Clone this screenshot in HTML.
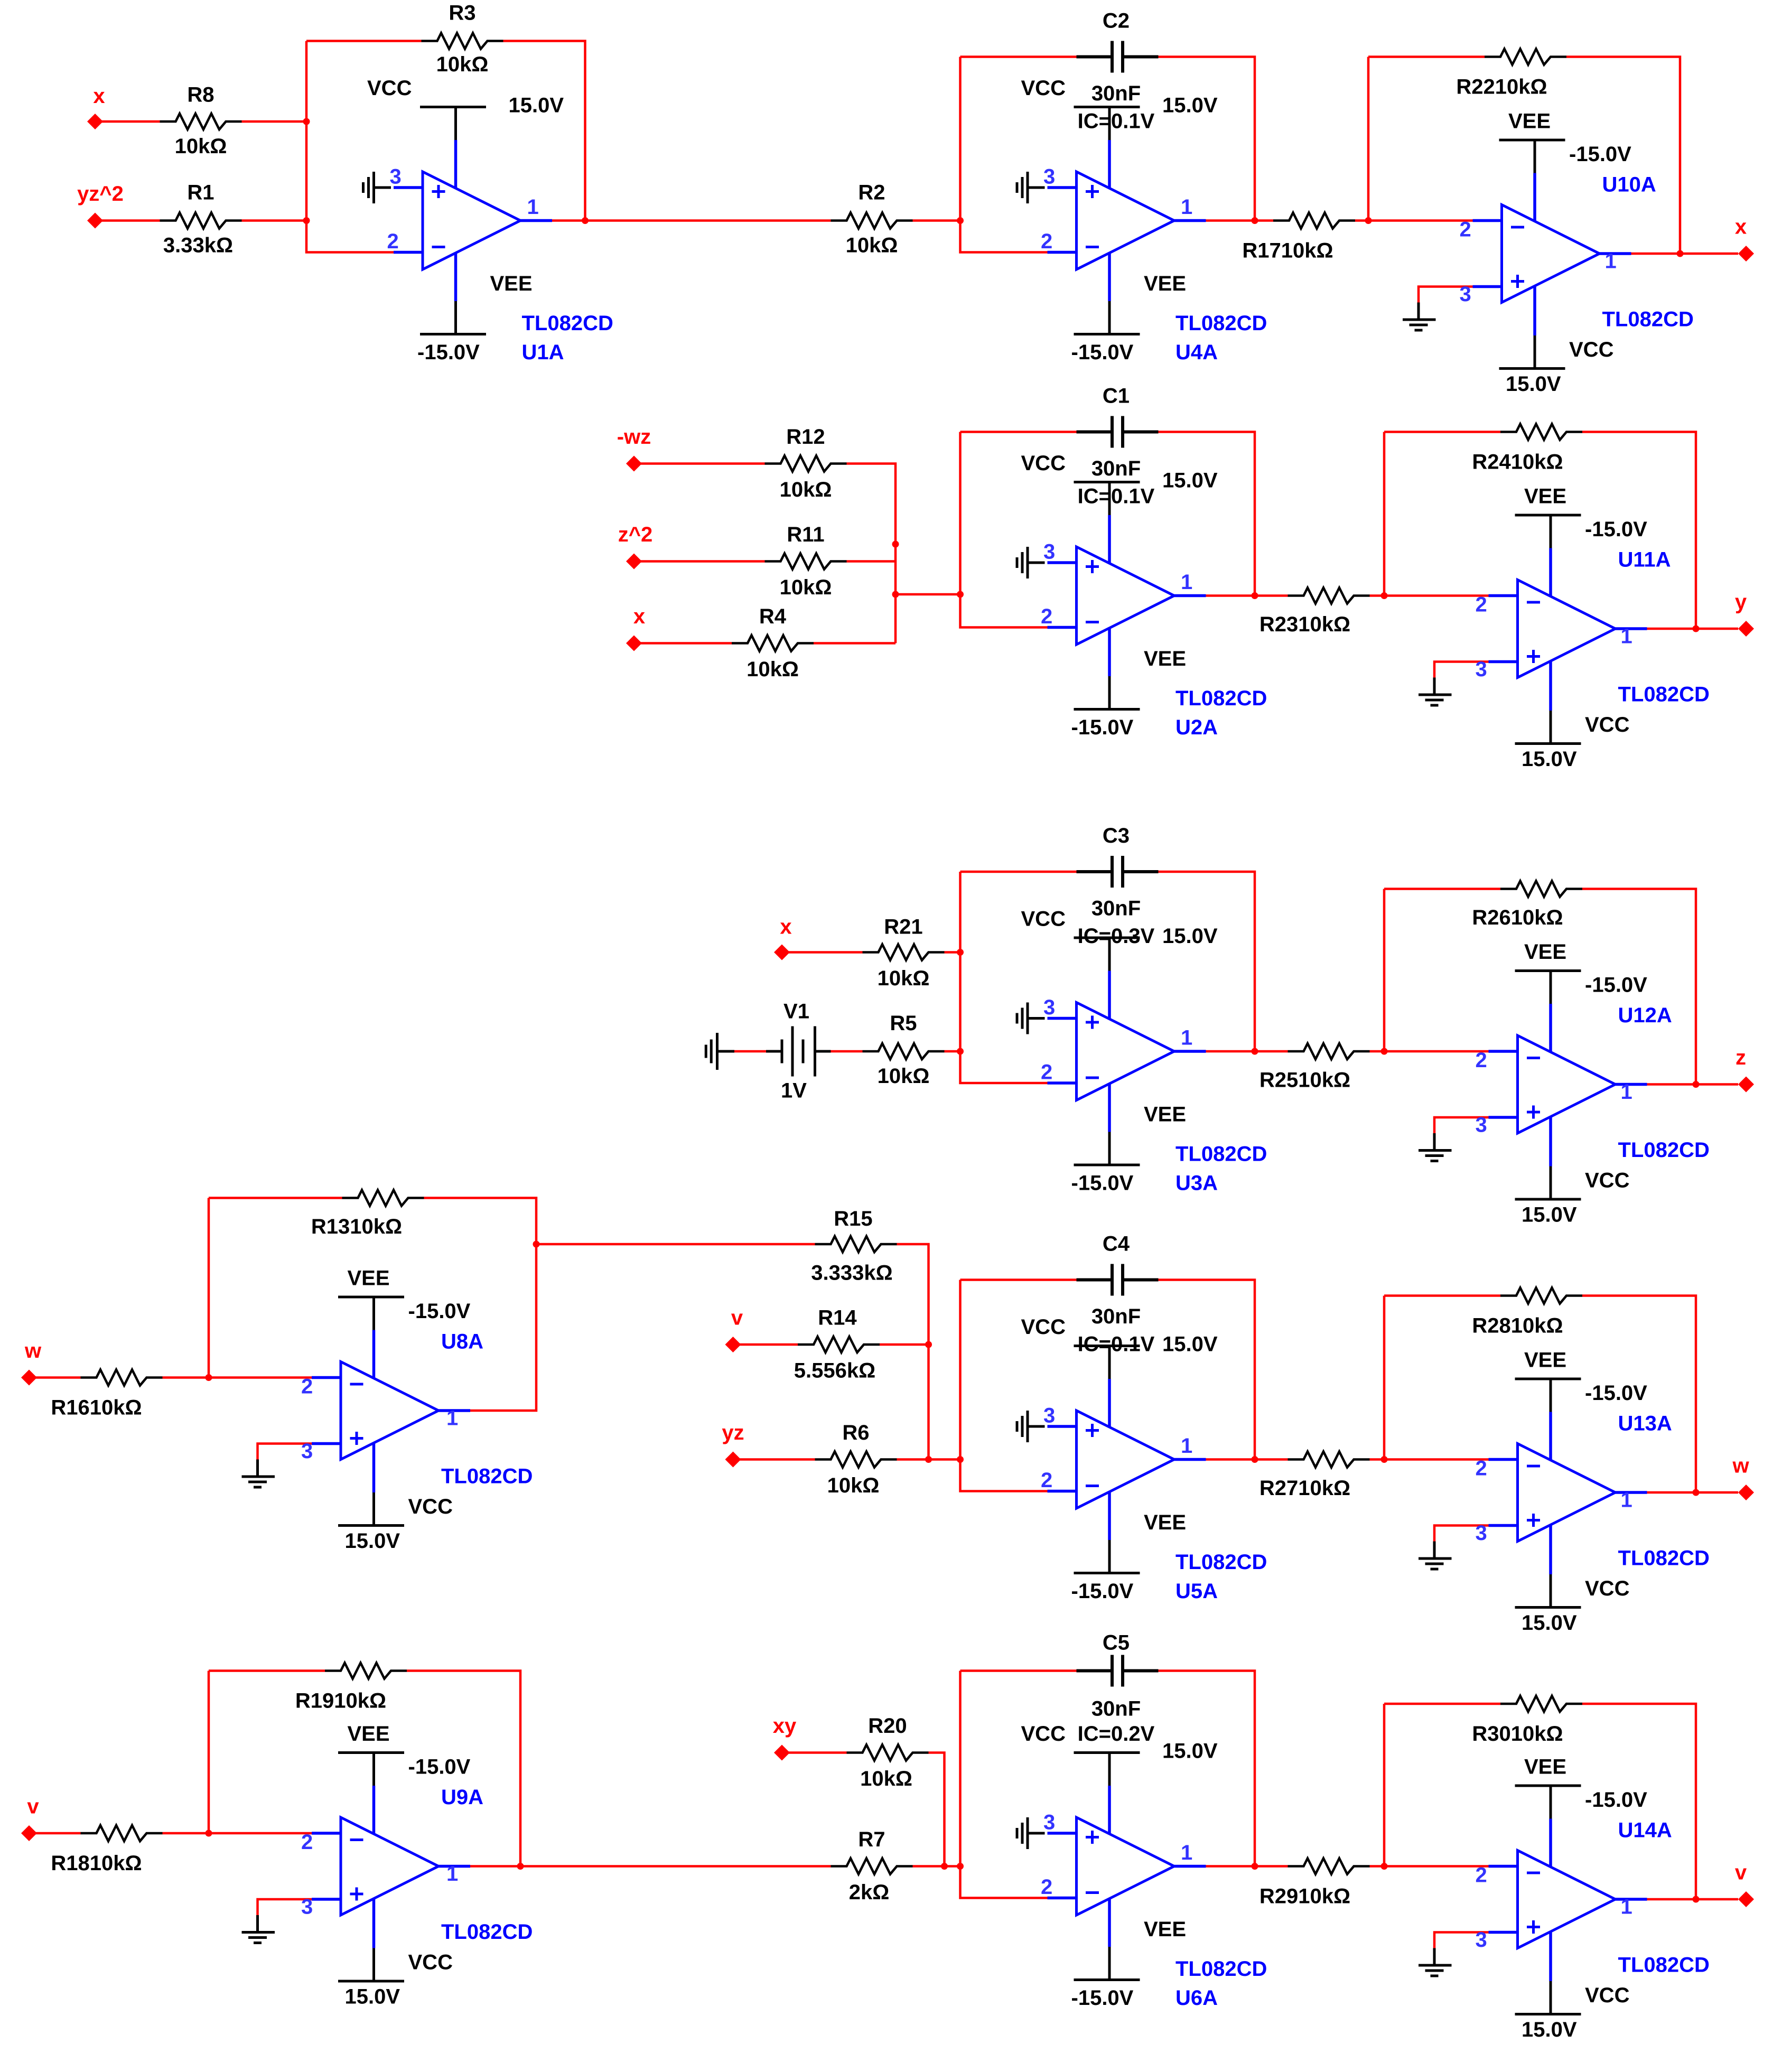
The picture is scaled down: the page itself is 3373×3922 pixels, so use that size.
<!DOCTYPE html>
<html><head><meta charset="utf-8"><style>
html,body{margin:0;padding:0;background:#fff;}
svg{display:block;}
text{font-family:"Liberation Sans",Arial,sans-serif;font-weight:bold;font-size:16px;}
.k{fill:#000;}
.b{fill:#0000ff;}
.r{fill:#ff0000;}
.c{text-anchor:middle;}
.p{font-size:10px;font-weight:normal;fill:#3333ff;}
</style></head><body>
<svg width="3373" height="3922" viewBox="0 0 1349.2 1568.8" xmlns="http://www.w3.org/2000/svg">
<defs>
<g id="res"><path d="M-31,0H-19l3,-6l6,12l6,-12l6,12l6,-12l6,12l5,-6H31" fill="none" stroke="#000" stroke-width="1.8"/></g>
<g id="cap"><path d="M-31,0H-4M4,0H31M-4,-12V12M4,-12V12" fill="none" stroke="#000" stroke-width="2.4"/></g>
<g id="oa">
<path d="M25,-24V-49M-2,-49H48M25,98V123M-2,123H48M-24,12H-37M-37,0V24M-41,4V20M-45,8V16" fill="none" stroke="#000" stroke-width="2"/>
<path d="M-22,12H0M-22,61H0M74,37H98M25,12.5V-24M25,62V98" fill="none" stroke="#0000ff" stroke-width="2.2"/>
<polygon points="0,0 0,74 74,37" fill="none" stroke="#0000ff" stroke-width="2"/>
<path d="M7,15h10M12,10v10M7,57h10" stroke="#0000ff" stroke-width="2"/>
</g>
<g id="ob">
<path d="M25,-24V-49M-2,-49H48M25,99V124M-2,124H48M-63,74V87M-75,87H-50M-70,91H-56M-66,95H-60" fill="none" stroke="#000" stroke-width="2"/>
<path d="M-22,62H-63V74" fill="none" stroke="#ff0000" stroke-width="1.8"/>
<path d="M-22,12H0M-22,62H0M74,37H98M25,12.5V-24M25,62V99" fill="none" stroke="#0000ff" stroke-width="2.2"/>
<polygon points="0,0 0,74 74,37" fill="none" stroke="#0000ff" stroke-width="2"/>
<path d="M7,17h10M7,58h10M12,53v10" stroke="#0000ff" stroke-width="2"/>
</g>
</defs>

<!-- red wires -->
<path fill="none" stroke="#ff0000" stroke-width="1.8" d="
M72,92H121M183,92H232M72,167H121M183,167H232M232,31V191H298M232,31H319M381,31H443V167M418,167H629M691,167H727
M727,43V191H793M727,43H815M877,43H950V167M913,167H964M1026,167H1115M1036,43V167M1036,43H1124M1186,43H1272V192M1235,192H1316
M480,351H579M641,351H678V487M480,425H579M641,425H678M480,487H554M616,487H678M678,450H727M727,327V475H793M727,327H815M877,327H950V451M913,451H975M1037,451H1127M1048,327V451M1048,327H1136M1198,327H1284V476M1247,476H1316
M592,721H653M715,721H727M727,660V820H793M727,660H815M877,660H950V796M556,796H580M629,796H653M715,796H727M913,796H975M1037,796H1127M1048,673V796M1048,673H1136M1198,673H1284V821M1247,821H1316
M22,1043H61M123,1043H236M158,907V1043M158,907H259M321,907H406V1068H356M406,942H617M679,942H703V1105M555,1018H604M666,1018H703M555,1105H617M679,1105H727M727,969V1129H793M727,969H815M877,969H950V1105M913,1105H975M1037,1105H1127M1048,981V1105M1048,981H1136M1198,981H1284V1130M1247,1130H1316
M22,1388H61M123,1388H236M158,1265V1388M158,1265H246M308,1265H394V1413M356,1413H629M691,1413H727M592,1327H641M703,1327H715V1413M727,1265V1437H793M727,1265H815M877,1265H950V1413M913,1413H975M1037,1413H1127M1048,1290V1413M1048,1290H1136M1198,1290H1284V1438M1247,1438H1316"/>

<!-- resistors -->
<use href="#res" x="152" y="92"/><use href="#res" x="152" y="167"/><use href="#res" x="350" y="31"/><use href="#res" x="660" y="167"/>
<use href="#res" x="995" y="167"/><use href="#res" x="1155" y="43"/>
<use href="#res" x="610" y="351"/><use href="#res" x="610" y="425"/><use href="#res" x="585" y="487"/><use href="#res" x="1006" y="451"/><use href="#res" x="1167" y="327"/>
<use href="#res" x="684" y="721"/><use href="#res" x="684" y="796"/><use href="#res" x="1006" y="796"/><use href="#res" x="1167" y="673"/>
<use href="#res" x="92" y="1043"/><use href="#res" x="290" y="907"/><use href="#res" x="648" y="942"/><use href="#res" x="635" y="1018"/><use href="#res" x="648" y="1105"/><use href="#res" x="1006" y="1105"/><use href="#res" x="1167" y="981"/>
<use href="#res" x="92" y="1388"/><use href="#res" x="277" y="1265"/><use href="#res" x="660" y="1413"/><use href="#res" x="672" y="1327"/><use href="#res" x="1006" y="1413"/><use href="#res" x="1167" y="1290"/>

<!-- caps -->
<use href="#cap" x="846" y="43"/><use href="#cap" x="846" y="327"/><use href="#cap" x="846" y="660"/><use href="#cap" x="846" y="969"/><use href="#cap" x="846" y="1265"/>

<!-- V1 battery + ground -->
<path fill="none" stroke="#000" stroke-width="2" d="M543,796H556M580,796H592M617,796H629M592,787V805M600,777V815M608,787V805M617,777V815M543,782V810M538.5,787V805M534.5,791V801"/>

<!-- opamps -->
<use href="#oa" x="320" y="130"/><use href="#oa" x="815" y="130"/><use href="#oa" x="815" y="414"/><use href="#oa" x="815" y="759"/><use href="#oa" x="815" y="1068"/><use href="#oa" x="815" y="1376"/>
<use href="#ob" x="1137" y="155"/><use href="#ob" x="1149" y="439"/><use href="#ob" x="1149" y="784"/><use href="#ob" x="1149" y="1093"/><use href="#ob" x="1149" y="1401"/><use href="#ob" x="258" y="1031"/><use href="#ob" x="258" y="1376"/>

<!-- dots -->
<g fill="#ff0000">
<circle cx="232" cy="92" r="2.6"/><circle cx="232" cy="167" r="2.6"/><circle cx="443" cy="167" r="2.6"/><circle cx="727" cy="167" r="2.6"/><circle cx="950" cy="167" r="2.6"/><circle cx="1036" cy="167" r="2.6"/><circle cx="1272" cy="192" r="2.6"/>
<circle cx="678" cy="412" r="2.6"/><circle cx="678" cy="450" r="2.6"/><circle cx="727" cy="450" r="2.6"/><circle cx="950" cy="451" r="2.6"/><circle cx="1048" cy="451" r="2.6"/><circle cx="1284" cy="476" r="2.6"/>
<circle cx="727" cy="721" r="2.6"/><circle cx="727" cy="796" r="2.6"/><circle cx="950" cy="796" r="2.6"/><circle cx="1048" cy="796" r="2.6"/><circle cx="1284" cy="821" r="2.6"/>
<circle cx="158" cy="1043" r="2.6"/><circle cx="406" cy="942" r="2.6"/><circle cx="703" cy="1018" r="2.6"/><circle cx="703" cy="1105" r="2.6"/><circle cx="727" cy="1105" r="2.6"/><circle cx="950" cy="1105" r="2.6"/><circle cx="1048" cy="1105" r="2.6"/><circle cx="1284" cy="1130" r="2.6"/>
<circle cx="158" cy="1388" r="2.6"/><circle cx="394" cy="1413" r="2.6"/><circle cx="715" cy="1413" r="2.6"/><circle cx="727" cy="1413" r="2.6"/><circle cx="950" cy="1413" r="2.6"/><circle cx="1048" cy="1413" r="2.6"/><circle cx="1284" cy="1438" r="2.6"/>
<path d="M72,86l6,6l-6,6l-6,-6zM72,161l6,6l-6,6l-6,-6zM1322,186l6,6l-6,6l-6,-6zM480,345l6,6l-6,6l-6,-6zM480,419l6,6l-6,6l-6,-6zM480,481l6,6l-6,6l-6,-6zM1322,470l6,6l-6,6l-6,-6zM592,715l6,6l-6,6l-6,-6zM1322,815l6,6l-6,6l-6,-6zM22,1037l6,6l-6,6l-6,-6zM555,1012l6,6l-6,6l-6,-6zM555,1099l6,6l-6,6l-6,-6zM1322,1124l6,6l-6,6l-6,-6zM22,1382l6,6l-6,6l-6,-6zM592,1321l6,6l-6,6l-6,-6zM1322,1432l6,6l-6,6l-6,-6z"/>
</g>

<!-- port labels -->
<g class="r c">
<text x="75" y="78">x</text><text x="76" y="152">yz^2</text><text x="1318" y="177">x</text>
<text x="480" y="336">-wz</text><text x="481" y="410">z^2</text><text x="484" y="472">x</text><text x="1318" y="461">y</text>
<text x="595" y="707">x</text><text x="1318" y="806">z</text>
<text x="25" y="1028">w</text><text x="558" y="1003">v</text><text x="555" y="1090">yz</text><text x="1318" y="1115">w</text>
<text x="25" y="1373">v</text><text x="594" y="1312">xy</text><text x="1318" y="1423">v</text>
</g>

<!-- component labels -->
<g class="k c">
<text x="152" y="77">R8</text><text x="152" y="116">10kΩ</text><text x="152" y="151">R1</text><text x="150" y="191">3.33kΩ</text>
<text x="350" y="15">R3</text><text x="350" y="54">10kΩ</text><text x="660" y="151">R2</text><text x="660" y="191">10kΩ</text>
<text x="845" y="21">C2</text><text x="845" y="76">30nF</text><text x="845" y="97">IC=0.1V</text><text x="975" y="195">R1710kΩ</text><text x="1137" y="71">R2210kΩ</text>
<text x="610" y="336">R12</text><text x="610" y="376">10kΩ</text><text x="610" y="410">R11</text><text x="610" y="450">10kΩ</text><text x="585" y="472">R4</text><text x="585" y="512">10kΩ</text>
<text x="845" y="305">C1</text><text x="845" y="360">30nF</text><text x="845" y="381">IC=0.1V</text><text x="988" y="478">R2310kΩ</text><text x="1149" y="355">R2410kΩ</text>
<text x="684" y="707">R21</text><text x="684" y="746">10kΩ</text><text x="603" y="771">V1</text><text x="601" y="831">1V</text><text x="684" y="780">R5</text><text x="684" y="820">10kΩ</text>
<text x="845" y="638">C3</text><text x="845" y="693">30nF</text><text x="845" y="714">IC=0.3V</text><text x="988" y="823">R2510kΩ</text><text x="1149" y="700">R2610kΩ</text>
<text x="270" y="934">R1310kΩ</text><text x="73" y="1071">R1610kΩ</text><text x="646" y="928">R15</text><text x="645" y="969">3.333kΩ</text><text x="634" y="1003">R14</text><text x="632" y="1043">5.556kΩ</text><text x="648" y="1090">R6</text><text x="646" y="1130">10kΩ</text>
<text x="845" y="947">C4</text><text x="845" y="1002">30nF</text><text x="845" y="1023">IC=0.1V</text><text x="988" y="1132">R2710kΩ</text><text x="1149" y="1009">R2810kΩ</text>
<text x="258" y="1293">R1910kΩ</text><text x="73" y="1416">R1810kΩ</text><text x="672" y="1312">R20</text><text x="671" y="1352">10kΩ</text><text x="660" y="1398">R7</text><text x="658" y="1438">2kΩ</text>
<text x="845" y="1249">C5</text><text x="845" y="1299">30nF</text><text x="845" y="1318">IC=0.2V</text><text x="988" y="1441">R2910kΩ</text><text x="1149" y="1318">R3010kΩ</text>
</g>

<!-- type A opamp labels -->
<g class="k">
<text x="278" y="72">VCC</text><text x="385" y="85">15.0V</text><text x="371" y="220">VEE</text><text x="316" y="272">-15.0V</text>
<text x="773" y="72">VCC</text><text x="880" y="85">15.0V</text><text x="866" y="220">VEE</text><text x="811" y="272">-15.0V</text>
<text x="773" y="356">VCC</text><text x="880" y="369">15.0V</text><text x="866" y="504">VEE</text><text x="811" y="556">-15.0V</text>
<text x="773" y="701">VCC</text><text x="880" y="714">15.0V</text><text x="866" y="849">VEE</text><text x="811" y="901">-15.0V</text>
<text x="773" y="1010">VCC</text><text x="880" y="1023">15.0V</text><text x="866" y="1158">VEE</text><text x="811" y="1210">-15.0V</text>
<text x="773" y="1318">VCC</text><text x="880" y="1331">15.0V</text><text x="866" y="1466">VEE</text><text x="811" y="1518">-15.0V</text>
<text x="1142" y="97">VEE</text><text x="1188" y="122">-15.0V</text><text x="1188" y="270">VCC</text><text x="1140" y="296">15.0V</text>
<text x="1154" y="381">VEE</text><text x="1200" y="406">-15.0V</text><text x="1200" y="554">VCC</text><text x="1152" y="580">15.0V</text>
<text x="1154" y="726">VEE</text><text x="1200" y="751">-15.0V</text><text x="1200" y="899">VCC</text><text x="1152" y="925">15.0V</text>
<text x="1154" y="1035">VEE</text><text x="1200" y="1060">-15.0V</text><text x="1200" y="1208">VCC</text><text x="1152" y="1234">15.0V</text>
<text x="1154" y="1343">VEE</text><text x="1200" y="1368">-15.0V</text><text x="1200" y="1516">VCC</text><text x="1152" y="1542">15.0V</text>
<text x="263" y="973">VEE</text><text x="309" y="998">-15.0V</text><text x="309" y="1146">VCC</text><text x="261" y="1172">15.0V</text>
<text x="263" y="1318">VEE</text><text x="309" y="1343">-15.0V</text><text x="309" y="1491">VCC</text><text x="261" y="1517">15.0V</text>
</g>
<g class="b">
<text x="395" y="250">TL082CD</text><text x="395" y="272">U1A</text>
<text x="890" y="250">TL082CD</text><text x="890" y="272">U4A</text>
<text x="890" y="534">TL082CD</text><text x="890" y="556">U2A</text>
<text x="890" y="879">TL082CD</text><text x="890" y="901">U3A</text>
<text x="890" y="1188">TL082CD</text><text x="890" y="1210">U5A</text>
<text x="890" y="1496">TL082CD</text><text x="890" y="1518">U6A</text>
<text x="1213" y="145">U10A</text><text x="1213" y="247">TL082CD</text>
<text x="1225" y="429">U11A</text><text x="1225" y="531">TL082CD</text>
<text x="1225" y="774">U12A</text><text x="1225" y="876">TL082CD</text>
<text x="1225" y="1083">U13A</text><text x="1225" y="1185">TL082CD</text>
<text x="1225" y="1391">U14A</text><text x="1225" y="1493">TL082CD</text>
<text x="334" y="1021">U8A</text><text x="334" y="1123">TL082CD</text>
<text x="334" y="1366">U9A</text><text x="334" y="1468">TL082CD</text>
</g>

<!-- pin numbers type A -->
<g class="p">
<text x="295" y="139">3</text><text x="293" y="188">2</text><text x="399" y="162">1</text>
<text x="790" y="139">3</text><text x="788" y="188">2</text><text x="894" y="162">1</text>
<text x="790" y="423">3</text><text x="788" y="472">2</text><text x="894" y="446">1</text>
<text x="790" y="768">3</text><text x="788" y="817">2</text><text x="894" y="791">1</text>
<text x="790" y="1077">3</text><text x="788" y="1126">2</text><text x="894" y="1100">1</text>
<text x="790" y="1385">3</text><text x="788" y="1434">2</text><text x="894" y="1408">1</text>
<text x="1105" y="179">2</text><text x="1105" y="228">3</text><text x="1215" y="203">1</text>
<text x="1117" y="463">2</text><text x="1117" y="512">3</text><text x="1227" y="487">1</text>
<text x="1117" y="808">2</text><text x="1117" y="857">3</text><text x="1227" y="832">1</text>
<text x="1117" y="1117">2</text><text x="1117" y="1166">3</text><text x="1227" y="1141">1</text>
<text x="1117" y="1425">2</text><text x="1117" y="1474">3</text><text x="1227" y="1449">1</text>
<text x="228" y="1055">2</text><text x="228" y="1104">3</text><text x="338" y="1079">1</text>
<text x="228" y="1400">2</text><text x="228" y="1449">3</text><text x="338" y="1424">1</text>
</g>
</svg>
</body></html>
